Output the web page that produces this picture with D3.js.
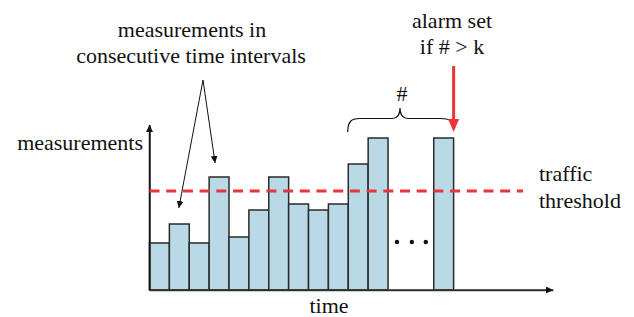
<!DOCTYPE html>
<meta charset="utf-8">
<style>
body { margin: 0; background: #fff; }
svg text { font-family: "Liberation Serif", "Times New Roman", Times, "DejaVu Serif", "Noto Serif", serif; font-size: 22px; fill: #111; }
.bars rect { fill: #b8d9e5; stroke: #2a2a2a; stroke-width: 1.5px; }
.axis path { stroke: #333; stroke-width: 1.5px; }
</style>
<svg width="634" height="317"></svg>
<script src="https://d3js.org/d3.v7.min.js"></script>
<script>
// measurements per time interval (slot index = position on the time axis)
var slots = [0, 1, 2, 3, 4, 5, 6, 7, 8, 9, 10, 11, 14.3];
var values = [47, 66, 47, 113, 53, 80, 113, 86, 80, 86, 126, 152, 152];
var threshold = 99;
var dotSlots = [12.45, 13.2, 13.9];

var svg = d3.select("svg");

var x = d3.scaleLinear().domain([0, 20.3]).range([149.5, 553]);
var y = d3.scaleLinear().domain([0, 165]).range([290, 125]);
var slotW = x(1) - x(0);

var defs = svg.append("defs");
defs.append("marker").attr("id", "ah")
    .attr("viewBox", "0 0 10 10").attr("refX", 10).attr("refY", 5)
    .attr("markerWidth", 7).attr("markerHeight", 7).attr("markerUnits", "userSpaceOnUse")
    .attr("orient", "auto")
  .append("path").attr("d", "M0,0L10,5L0,10Z").attr("fill", "#111");

// bars
svg.append("g").attr("class", "bars")
  .selectAll("rect")
  .data(values)
  .enter().append("rect")
    .attr("x", function(d, i) { return x(slots[i]); })
    .attr("width", slotW)
    .attr("y", function(d) { return y(d); })
    .attr("height", function(d) { return y(0) - y(d); });

// axes (no ticks, just lines with arrowheads)
svg.append("g").attr("class", "axis")
    .attr("transform", "translate(0," + y(0) + ")")
    .call(d3.axisBottom(x).tickValues([]).tickSizeOuter(0));
svg.append("g").attr("class", "axis")
    .attr("transform", "translate(" + x(0) + ",0)")
    .call(d3.axisLeft(y).tickValues([]).tickSizeOuter(0));
svg.append("line").attr("x1", x(0)).attr("y1", y(0)).attr("x2", x(20.3)).attr("y2", y(0))
    .attr("stroke", "#333").attr("stroke-width", 1.5).attr("marker-end", "url(#ah)");
svg.append("line").attr("x1", x(0)).attr("y1", y(0)).attr("x2", x(0)).attr("y2", y(165))
    .attr("stroke", "#111").attr("stroke-width", 1.5).attr("marker-end", "url(#ah)");

// threshold
svg.append("line")
    .attr("x1", x(0)).attr("x2", 523)
    .attr("y1", y(threshold)).attr("y2", y(threshold))
    .attr("stroke", "#e8353a").attr("stroke-width", 3)
    .attr("stroke-dasharray", "10,6.7");

// dots
svg.selectAll(".dot").data(dotSlots).enter().append("circle")
    .attr("cx", function(d) { return x(d); }).attr("cy", 242).attr("r", 2.2).attr("fill", "#111");

// annotation arrows to two bars
var apex = [203, 80];
svg.append("line").attr("x1", apex[0]).attr("y1", apex[1])
    .attr("x2", x(1.5) - 0.5).attr("y2", y(66) - 16)
    .attr("stroke", "#111").attr("stroke-width", 1).attr("marker-end", "url(#ah)");
svg.append("line").attr("x1", apex[0]).attr("y1", apex[1])
    .attr("x2", x(3.3)).attr("y2", y(113) - 14)
    .attr("stroke", "#111").attr("stroke-width", 1).attr("marker-end", "url(#ah)");

// brace over the counted bars
var bx0 = x(10) - 0.5, bx1 = x(slots[12]) + slotW - 1, bm = 400, by = 118.5;
var brace = "M" + bx0 + ",132 C" + bx0 + ",122 " + (bx0 + 3) + "," + by + " " + (bx0 + 12) + "," + by +
    " L" + (bm - 8) + "," + by + " C" + (bm - 3) + "," + by + " " + bm + "," + (by - 3) + " " + bm + ",108" +
    " C" + bm + "," + (by - 3) + " " + (bm + 3) + "," + by + " " + (bm + 8) + "," + by +
    " L" + (bx1 - 12) + "," + by + " C" + (bx1 - 3) + "," + by + " " + bx1 + ",121 " + bx1 + ",127";
svg.append("path").attr("d", brace).attr("fill", "none").attr("stroke", "#111").attr("stroke-width", 1.2);

// alarm arrow
var ax = x(slots[12]) + slotW;
svg.append("line").attr("x1", ax).attr("x2", ax).attr("y1", 66).attr("y2", 121)
    .attr("stroke", "#ee3333").attr("stroke-width", 3);
svg.append("path").attr("d", "M" + (ax - 5.5) + ",119L" + (ax + 5.5) + ",119L" + ax + ",132Z").attr("fill", "#ee3333");

// labels
function label(t, px, py, anchor) {
  svg.append("text").attr("x", px).attr("y", py).attr("text-anchor", anchor || "middle").text(t);
}
label("measurements in", 192, 37);
label("consecutive time intervals", 191, 63);
label("measurements", 143, 150, "end");
label("time", 329, 313);
label("#", 402, 101);
label("alarm set", 452, 28);
label("if # > k", 452, 54);
label("traffic", 539, 181, "start");
label("threshold", 539, 208, "start");
</script>
